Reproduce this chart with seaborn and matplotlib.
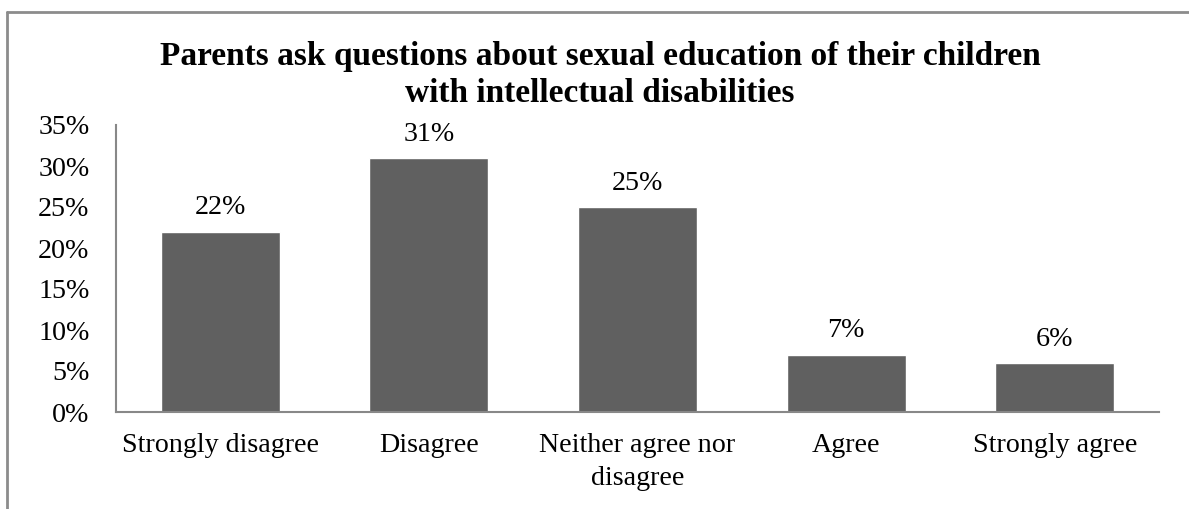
import matplotlib
matplotlib.use("Agg")
import matplotlib.pyplot as plt
import seaborn as sns
import pandas as pd
from matplotlib.lines import Line2D

categories = ["Strongly disagree", "Disagree", "Neither agree nor\ndisagree", "Agree", "Strongly agree"]
values = [22, 31, 25, 7, 6]
yticks = [0, 5, 10, 15, 20, 25, 30, 35]
title = "Parents ask questions about sexual education of their children\nwith intellectual disabilities"

sns.set_theme(style="white")
plt.rcParams['font.family'] = ['Liberation Serif', 'DejaVu Serif']
plt.rcParams['text.color'] = 'black'

df = pd.DataFrame({"cat": categories, "val": values})

W, H = 1189, 509
fig = plt.figure(figsize=(W / 100, H / 100), dpi=100)
ax = fig.add_axes([116 / W, 1 - 412 / H, (1159 - 116) / W, (412 - 125) / H])

sns.barplot(data=df, x="cat", y="val", color="#606060", saturation=1, width=0.57, ax=ax)

ax.set_ylim(0, 35)
ax.set_xlim(-0.5, len(categories) - 0.5)
ax.set_yticks(yticks)
ax.set_yticklabels([f"{t}%" for t in yticks])
ax.set_xlabel("")
ax.set_ylabel("")
ax.tick_params(axis="both", length=0, labelsize=20.2, colors="black", labelcolor="black")
ax.tick_params(axis="y", pad=19)
ax.tick_params(axis="x", pad=15)
for lbl in ax.get_xticklabels():
    lbl.set_linespacing(1.45)

for s in ["top", "right"]:
    ax.spines[s].set_visible(False)
for s in ["left", "bottom"]:
    ax.spines[s].set_color("#888888")
    ax.spines[s].set_linewidth(1.5)

for i, v in enumerate(values):
    ax.annotate(f"{v}%", (i, v), xytext=(0, 8), textcoords="offset points",
                ha="center", va="bottom", fontsize=20.2, color="black")

fig.text(600 / W, 1 - 75 / H, title, ha="center", va="center", fontsize=24,
         fontweight="bold", linespacing=1.28, color="black")

# outer chart frame
fig.add_artist(Line2D([7 / W, 7 / W], [0, 1 - 12 / H], transform=fig.transFigure,
                      color="#8c8c8c", lw=2))
fig.add_artist(Line2D([7 / W, 1], [1 - 12 / H, 1 - 12 / H], transform=fig.transFigure,
                      color="#8c8c8c", lw=2))

fig.savefig("out.png", dpi=100)
